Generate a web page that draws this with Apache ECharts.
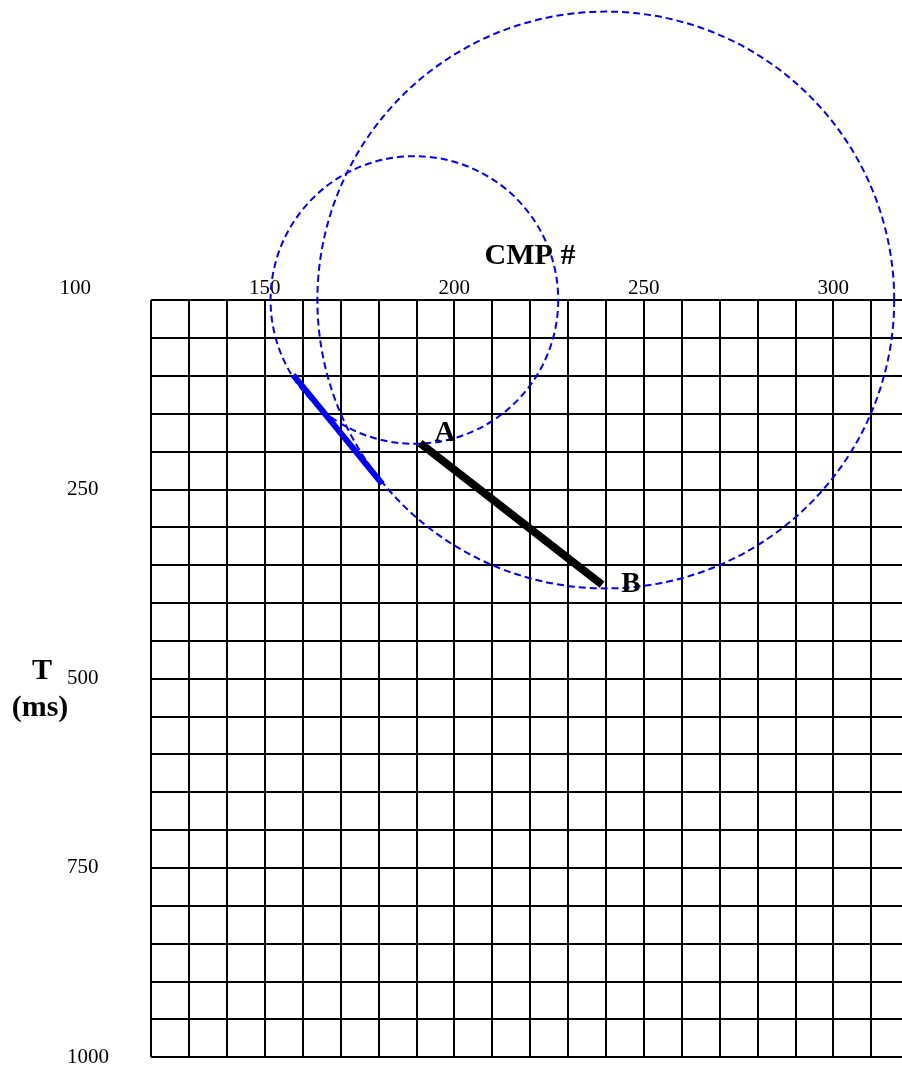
<!DOCTYPE html>
<html>
<head>
<meta charset="utf-8">
<script src="https://cdn.jsdelivr.net/npm/echarts@6/dist/echarts.min.js"></script>
<style>
html,body{margin:0;padding:0;background:#fff;}
#chart{width:902px;height:1076px;}
</style>
</head>
<body>
<div id="chart"></div>
<script>
// ---- data ----
const cmpTicks = [100, 150, 200, 250, 300];
const timeTicks = [250, 500, 750, 1000];
const blueCmp = [157.5, 181];
const blueTime = [99, 243];
const abCmp = [191, 239];
const abTime = [189, 376];
const pointNames = ['A', 'B'];
const arcCmp = [189.5, 240];
const arcRadius = [190, 381];

// ---- layout ----
const SERIF = 'Liberation Serif, Times New Roman, serif';
const gLeft = 151, gTop = 300, gWidth = 758, gHeight = 757;
const cmpMin = 120, cmpMax = 320, labelMin = 100;
const pxPerCmp = gWidth / (cmpMax - cmpMin);

const chart = echarts.init(document.getElementById('chart'), null, {renderer: 'canvas'});

const option = {
  backgroundColor: '#fff',
  animation: false,
  grid: [
    {left: gLeft, top: gTop, width: gWidth, height: gHeight, containLabel: false, outerBoundsMode: 'none'},
    {left: gLeft - (cmpMin - labelMin) * pxPerCmp, top: gTop,
     width: (cmpMax - labelMin) * pxPerCmp, height: gHeight, containLabel: false, outerBoundsMode: 'none'}
  ],
  xAxis: [
    {
      type: 'value', gridIndex: 0, min: cmpMin, max: cmpMax, interval: 10, position: 'top',
      axisLine: {show: false}, axisTick: {show: false}, axisLabel: {show: false},
      splitLine: {show: true, lineStyle: {color: '#000', width: 2}}
    },
    {
      type: 'value', gridIndex: 1, min: labelMin, max: cmpMax, position: 'top',
      axisLine: {show: false}, axisTick: {show: false},
      splitLine: {show: false},
      axisLabel: {
        show: true, customValues: cmpTicks, margin: 1,
        formatter: v => String(v),
        color: '#000', fontSize: 21, fontFamily: SERIF
      }
    }
  ],
  yAxis: [
    {
      type: 'value', gridIndex: 0, min: 0, max: 1000, interval: 50, inverse: true,
      axisLine: {show: false}, axisTick: {show: false},
      splitLine: {show: true, lineStyle: {color: '#000', width: 2}},
      axisLabel: {
        show: true, customValues: timeTicks, align: 'left', margin: 84,
        formatter: v => String(v),
        color: '#000', fontSize: 21, fontFamily: SERIF
      }
    },
    {
      type: 'value', gridIndex: 1, min: 0, max: 1000, inverse: true, show: false
    }
  ],
  graphic: [
    {type: 'text', x: 530, y: 256, z: 10,
     style: {text: 'CMP #', fill: '#000', font: 'bold 30px ' + SERIF, textAlign: 'center', textVerticalAlign: 'middle'}},
    {type: 'text', x: 42, y: 671, z: 10,
     style: {text: 'T', fill: '#000', font: 'bold 30px ' + SERIF, textAlign: 'center', textVerticalAlign: 'middle'}},
    {type: 'text', x: 40, y: 708, z: 10,
     style: {text: '(ms)', fill: '#000', font: 'bold 30px ' + SERIF, textAlign: 'center', textVerticalAlign: 'middle'}}
  ],
  series: [
    {
      type: 'custom', xAxisIndex: 0, yAxisIndex: 0, clip: false, z: 3,
      data: arcCmp.map((c, i) => [c, 0, arcRadius[i]]),
      encode: {x: 0, y: 1},
      renderItem: function (params, api) {
        const c = api.coord([api.value(0), api.value(1)]);
        const r = api.size([0, api.value(2)])[1];
        return {
          type: 'circle',
          shape: {cx: c[0], cy: c[1], r: r},
          style: {fill: 'none', stroke: '#0000ff', lineWidth: 2, lineDash: [7, 4]}
        };
      }
    },
    {
      type: 'line', xAxisIndex: 0, yAxisIndex: 0, z: 4,
      data: blueCmp.map((c, i) => [c, blueTime[i]]),
      symbol: 'none',
      lineStyle: {color: '#0000ff', width: 6, cap: 'butt'}
    },
    {
      type: 'line', xAxisIndex: 0, yAxisIndex: 0, z: 5,
      data: abCmp.map((c, i) => [c, abTime[i]]),
      symbol: 'none',
      lineStyle: {color: '#000', width: 8, cap: 'butt'}
    },
    {
      type: 'scatter', xAxisIndex: 0, yAxisIndex: 0, z: 6,
      symbolSize: 0,
      itemStyle: {opacity: 1},
      data: abCmp.map((c, i) => ({
        value: [c, abTime[i]], name: pointNames[i],
        label: {offset: i === 0 ? [25, -10] : [29, 0]}
      })),
      label: {
        show: true, position: 'inside', formatter: '{b}', opacity: 1,
        color: '#000', fontSize: 29, fontWeight: 'bold', fontFamily: SERIF,
        textBorderWidth: 0
      }
    }
  ]
};
chart.setOption(option);
</script>
</body>
</html>
